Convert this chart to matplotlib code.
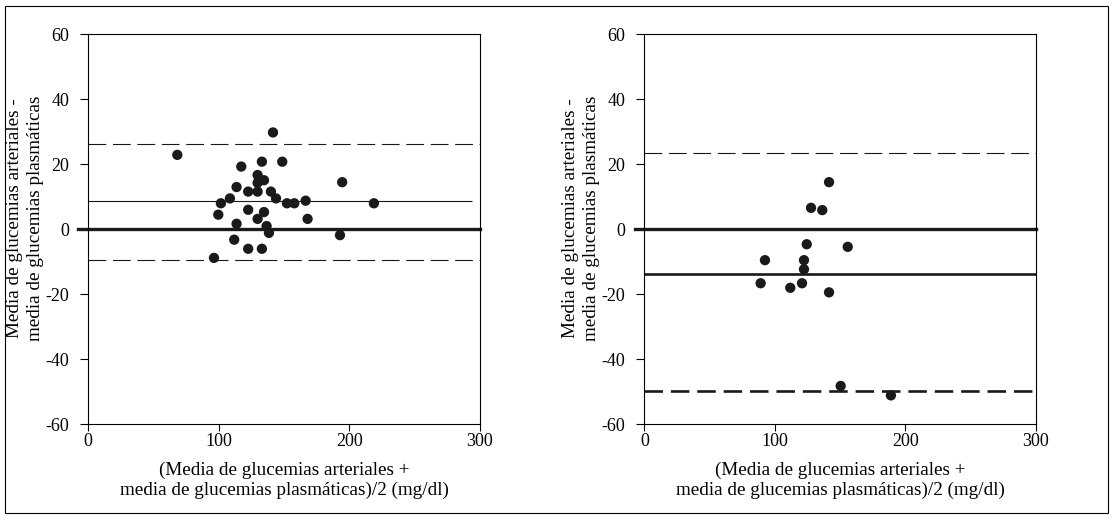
import matplotlib.pyplot as plt
from matplotlib.patches import Rectangle

plt.rcParams['font.family'] = ['Liberation Serif', 'DejaVu Serif']
plt.rcParams['axes.unicode_minus'] = False

# panel izquierdo
izq_x = [68.2, 141.5, 117.2, 133, 148.6, 194.5, 129.7, 129.7, 134.6, 113.6, 122.5,
         129.7, 139.9, 143.8, 108.5, 101.6, 152.2, 157.8, 166.5, 218.8, 99.6, 122.5,
         134.6, 129.7, 168.0, 113.6, 136.6, 138.4, 192.8, 111.8, 122.5, 133, 96.3]
izq_y = [22.9, 29.8, 19.3, 20.8, 20.8, 14.5, 16.7, 14.3, 15.1, 13.0, 11.6,
         11.6, 11.6, 9.5, 9.5, 8.0, 8.0, 8.0, 8.8, 8.0, 4.5, 6.0,
         5.3, 3.2, 3.2, 1.7, 1.0, -1.1, -1.8, -3.2, -6.0, -6.0, -8.8]
izq_media = 8.7
izq_limites = [26.2, -9.4]
izq_fin_media = 294

# panel derecho
der_x = [141.5, 127.7, 136.3, 124.4, 155.8, 92.4, 122.3, 122.3, 89.1, 111.8,
         120.8, 141.5, 150.4, 188.9]
der_y = [14.5, 6.6, 5.9, -4.6, -5.4, -9.5, -9.5, -12.3, -16.6, -18.0,
         -16.6, -19.4, -48.2, -51.1]
der_media = -13.8
der_limites = [23.4, -49.8]

ylabel = "Media de glucemias arteriales -\nmedia de glucemias plasmáticas"
xlabel = "(Media de glucemias arteriales +\nmedia de glucemias plasmáticas)/2 (mg/dl)"

fig = plt.figure(figsize=(11.13, 5.21), dpi=100)
ax1 = fig.add_axes([0.0793, 0.1856, 0.3519, 0.7486])
ax2 = fig.add_axes([0.5789, 0.1856, 0.3519, 0.7486])

dash = (0, (16, 6))
color = '#1a1a1a'

for ax in (ax1, ax2):
    ax.set_xlim(0, 300)
    ax.set_ylim(-60, 60)
    ax.set_xticks([0, 100, 200, 300])
    ax.set_yticks(range(-60, 61, 20))
    ax.tick_params(axis='y', direction='out', length=5.8, width=0.8, pad=8, labelsize=13)
    ax.tick_params(axis='x', direction='out', length=5, width=0.8, pad=1.5, labelsize=13)
    for s in ax.spines.values():
        s.set_linewidth(0.8)
    ax.set_ylabel(ylabel, fontsize=13.8, linespacing=1.3)
    ax.yaxis.set_label_coords(-0.113, 0.528)
    ax.set_xlabel(xlabel, fontsize=13.8, labelpad=8, linespacing=1.2)
    ax.axhline(0, xmin=-0.025, xmax=1, color=color, lw=2.4, clip_on=False, zorder=2)

ax1.hlines(izq_media, 0, izq_fin_media, color=color, lw=0.8)
for v in izq_limites:
    ax1.axhline(v, color=color, lw=0.8, linestyle=dash)
ax1.scatter(izq_x, izq_y, s=55, color=color, zorder=3, edgecolors='none')

ax2.axhline(der_media, color=color, lw=1.9)
ax2.axhline(der_limites[0], color=color, lw=0.8, linestyle=dash)
ax2.axhline(der_limites[1], color=color, lw=1.9, linestyle=(0, (7, 3)))
ax2.scatter(der_x, der_y, s=55, color=color, zorder=3, edgecolors='none')

fig.patches.append(Rectangle((0.0049, 0.0154), 0.9906, 0.9731, transform=fig.transFigure,
                             fill=False, edgecolor='black', lw=0.8))

fig.savefig('out.png', dpi=100)
